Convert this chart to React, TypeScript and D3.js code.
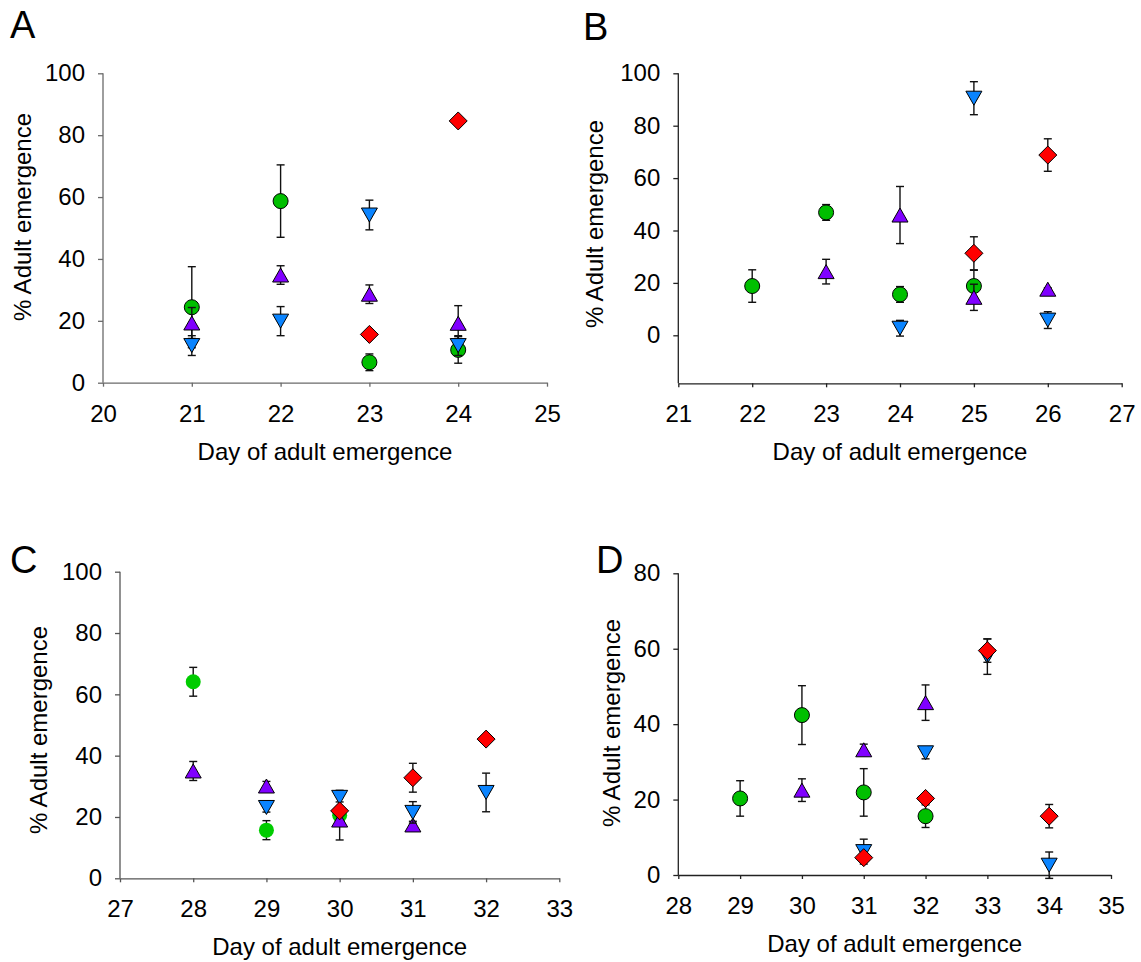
import { useEffect, useRef } from "react"
import * as d3 from "d3"

const FONT = '"Liberation Sans", Arial, Helvetica, sans-serif'

// Panel A
const daysA = [21, 22, 23, 24]
const greenA = [24.4, 58.7, 6.6, 10.6]
const greenErrA = [13.1, 11.7, 2.7, 4.3]
const purpleA = [19.3, 34.8, 28.6, 19.2]
const purpleErrA = [5, 3, 3, 5.7]
const blueA = [12.0, 19.9, 54.2, 12.0]
const blueErrA = [3.2, 4.7, 4.8, 3.2]
const redA = [null, null, 15.6, 84.6]
const redErrA = [null, null, 0, 0]

// Panel B
const daysB = [22, 23, 24, 25, 26]
const greenB = [18.8, 46.9, 15.6, 18.8, null]
const greenErrB = [6.2, 3, 3, 6, null]
const purpleB = [null, 24.3, 45.9, 14.5, 17.6]
const purpleErrB = [null, 4.7, 10.9, 5, 0.5]
const blueB = [null, null, 2.7, 90.5, 5.8]
const blueErrB = [null, null, 3, 6.3, 3.2]
const redB = [null, null, null, 31.3, 68.8]
const redErrB = [null, null, null, 6.3, 6.2]

// Panel C
const daysC = [28, 29, 30, 31, 32]
const greenC = [64.1, 15.7, 20.6, null, null]
const greenErrC = [4.7, 3.1, 8.1, null, null]
const purpleC = [35.0, 30.1, 19.0, 17.4, null]
const purpleErrC = [3.1, 1.5, 1.5, 1.2, null]
const blueC = [null, 23.1, 26.4, 21.5, 28.0]
const blueErrC = [null, 1.5, 1.5, 3.5, 6.3]
const redC = [null, null, 22.0, 32.8, 45.4]
const redErrC = [null, null, 0, 4.7, 0]

// Panel D
const daysD = [29, 30, 31, 32, 33, 34]
const greenD = [20.3, 42.4, 21.9, 15.6, null, null]
const greenErrD = [4.7, 7.8, 6.3, 3, null, null]
const purpleD = [null, 22.5, 33.2, 45.7, null, null]
const purpleErrD = [null, 3, 1.5, 4.7, null, null]
const blueD = [null, null, 6.2, 32.4, 57.9, 2.6]
const blueErrD = [null, null, 3.3, 1.6, 4.7, 3.5]
const redD = [null, null, 4.6, 20.3, 59.5, 15.6]
const redErrD = [null, null, 0, 0, 3.1, 3.1]

const yTicks100 = [0, 20, 40, 60, 80, 100]
const yTicks80 = [0, 20, 40, 60, 80]

const panels = [
  {
    letter: "A", letterPos: [10, 38],
    days: daysA, series: [[greenA, greenErrA], [purpleA, purpleErrA], [blueA, blueErrA], [redA, redErrA]],
    xDomain: [20, 25], xRange: [103, 547],
    yDomain: [0, 100], yRange: [382.7, 73.3], yBottom: 382.7, yTicks: yTicks100,
    yTitle: [23, 217], axisColor: "#6a6a6a", greenStroke: true,
  },
  {
    letter: "B", letterPos: [583, 40],
    days: daysB, series: [[greenB, greenErrB], [purpleB, purpleErrB], [blueB, blueErrB], [redB, redErrB]],
    xDomain: [21, 27], xRange: [678.3, 1121.7],
    yDomain: [0, 100], yRange: [335.3, 73.3], yBottom: 383.3, yTicks: yTicks100,
    yTitle: [595, 224], axisColor: "#222", greenStroke: true,
  },
  {
    letter: "C", letterPos: [10, 573],
    days: daysC, series: [[greenC, greenErrC], [purpleC, purpleErrC], [blueC, blueErrC], [redC, redErrC]],
    xDomain: [27, 33], xRange: [120, 559.3],
    yDomain: [0, 100], yRange: [878.3, 571.7], yBottom: 878.3, yTicks: yTicks100,
    yTitle: [39, 730], axisColor: "#555", greenStroke: false,
  },
  {
    letter: "D", letterPos: [596, 573],
    days: daysD, series: [[greenD, greenErrD], [purpleD, purpleErrD], [blueD, blueErrD], [redD, redErrD]],
    xDomain: [28, 35], xRange: [678.3, 1111],
    yDomain: [0, 80], yRange: [875, 573.3], yBottom: 875, yTicks: yTicks80,
    yTitle: [612, 723], axisColor: "#222", greenStroke: true,
  },
]

const styles = [
  { shape: "circle", fill: "#00bf00" },
  { shape: "up", fill: "#8000ff" },
  { shape: "down", fill: "#0a84ff" },
  { shape: "diamond", fill: "#ff0000" },
]

const markerPath = (shape: string) => {
  if (shape === "up") return "M0,-7L8,7L-8,7Z"
  if (shape === "down") return "M-8,-7L8,-7L0,7Z"
  if (shape === "diamond") return "M0,-9L9,0L0,9L-9,0Z"
  return null
}

export default function App() {
  const svgRef = useRef<SVGSVGElement>(null)

  useEffect(() => {
    if (!svgRef.current) return
    const svg = d3.select(svgRef.current)
    svg.selectAll("*").remove()

    panels.forEach((p) => {
      const x = d3.scaleLinear().domain(p.xDomain).range(p.xRange)
      const y = d3.scaleLinear().domain(p.yDomain).range(p.yRange)
      const g = svg.append("g")

      // x axis
      const xTicks = d3.range(p.xDomain[0], p.xDomain[1] + 1)
      const xAxis = g
        .append("g")
        .attr("transform", `translate(0,${p.yBottom})`)
        .call(d3.axisBottom(x).tickValues(xTicks).tickFormat(d3.format("d")).tickSize(4).tickPadding(18).tickSizeOuter(0))
      xAxis.select(".domain").attr("stroke", p.axisColor).attr("stroke-width", 1.3)
      xAxis.selectAll(".tick line").attr("stroke", p.axisColor).attr("stroke-width", 1.3)
      xAxis.selectAll("text").attr("font-family", FONT).attr("font-size", 24).attr("fill", "#000")

      // y axis
      const yAxis = g
        .append("g")
        .attr("transform", `translate(${p.xRange[0]},0)`)
        .call(d3.axisLeft(y).tickValues(p.yTicks).tickSize(5).tickPadding(13).tickSizeOuter(0))
      yAxis.select(".domain").remove()
      g.append("line")
        .attr("x1", p.xRange[0]).attr("x2", p.xRange[0])
        .attr("y1", y(p.yDomain[1])).attr("y2", p.yBottom)
        .attr("stroke", p.axisColor).attr("stroke-width", 1.3)
      yAxis.selectAll(".tick line").attr("stroke", p.axisColor).attr("stroke-width", 1.3)
      yAxis.selectAll("text").attr("font-family", FONT).attr("font-size", 24).attr("fill", "#000")

      // titles
      g.append("text")
        .attr("x", (p.xRange[0] + p.xRange[1]) / 2)
        .attr("y", p.yBottom + 77)
        .attr("text-anchor", "middle")
        .attr("font-family", FONT).attr("font-size", 24)
        .text("Day of adult emergence")
      g.append("text")
        .attr("transform", `translate(${p.yTitle[0] + 8},${p.yTitle[1]}) rotate(-90)`)
        .attr("text-anchor", "middle")
        .attr("font-family", FONT).attr("font-size", 24)
        .text("% Adult emergence")
      g.append("text")
        .attr("x", p.letterPos[0]).attr("y", p.letterPos[1])
        .attr("font-family", FONT).attr("font-size", 38)
        .text(p.letter)

      // series: error bars then markers, in series order
      p.series.forEach(([vals, errs], si) => {
        const st = styles[si]
        const pts = p.days
          .map((d, i) => ({ d, v: vals[i], e: errs[i] }))
          .filter((o) => o.v != null)
        const sg = g.append("g")
        pts.forEach((o) => {
          if (!o.e) return
          const cx = x(o.d)
          const y0 = y(o.v - o.e)
          const y1 = y(o.v + o.e)
          sg.append("line").attr("x1", cx).attr("x2", cx).attr("y1", y0).attr("y2", y1)
            .attr("stroke", "#111").attr("stroke-width", 1.4)
          ;[y0, y1].forEach((yy) =>
            sg.append("line").attr("x1", cx - 4).attr("x2", cx + 4).attr("y1", yy).attr("y2", yy)
              .attr("stroke", "#111").attr("stroke-width", 1.4)
          )
        })
        pts.forEach((o) => {
          const cx = x(o.d)
          const cy = y(o.v)
          const path = markerPath(st.shape)
          const noStroke = si === 0 && !p.greenStroke
          const m = path
            ? sg.append("path").attr("d", path).attr("transform", `translate(${cx},${cy})`)
            : sg.append("circle").attr("cx", cx).attr("cy", cy).attr("r", 7.5)
          m.attr("fill", noStroke ? "#00cc00" : st.fill)
            .attr("stroke", noStroke ? "none" : "#000")
            .attr("stroke-width", 1)
        })
      })
    })
  }, [])

  return (
    <svg
      ref={svgRef}
      width={1141}
      height={962}
      style={{ position: "absolute", left: 0, top: 0, background: "#fff" }}
    />
  )
}
